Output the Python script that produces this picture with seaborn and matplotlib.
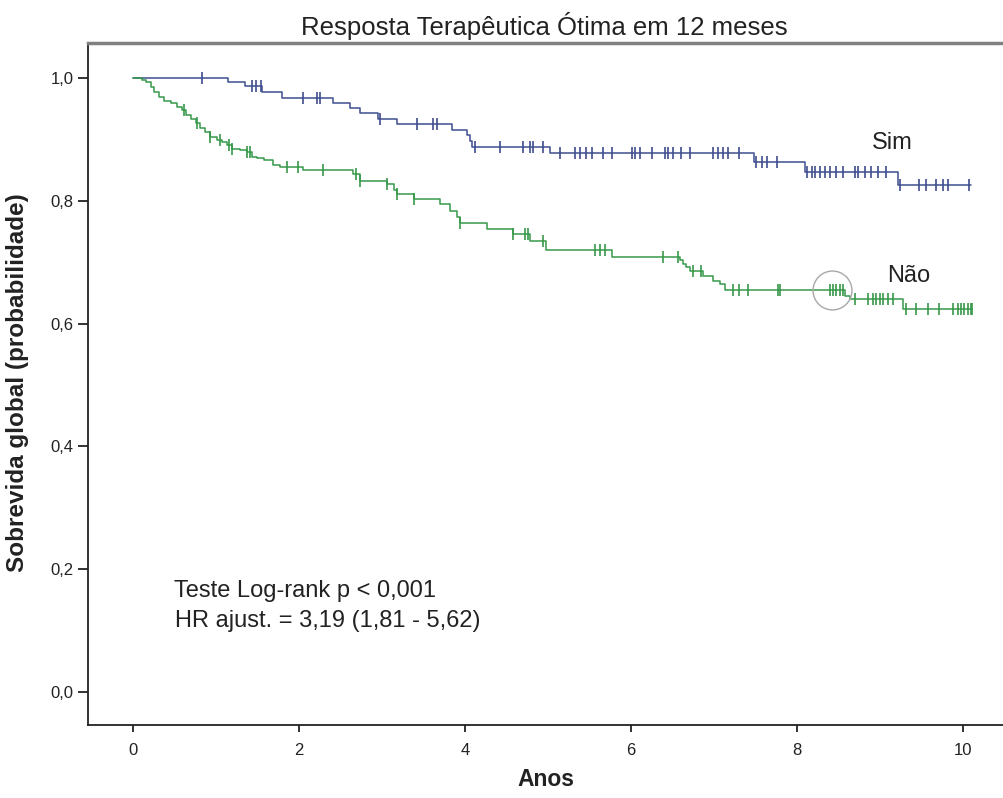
import matplotlib
matplotlib.use("Agg")
import matplotlib.pyplot as plt
import numpy as np
import pandas as pd
import seaborn as sns

# Kaplan-Meier steps (years, survival probability)
sim_times = [0, 1.14, 1.35, 1.55, 1.79, 2.41, 2.61, 2.73, 2.95, 3.18, 3.84, 4.02, 4.06,
             4.08, 5.03, 7.49, 8.10, 9.22, 10.10]
sim_surv = [1.0, 0.993, 0.987, 0.977, 0.968, 0.960, 0.951, 0.943, 0.934, 0.925, 0.915,
            0.907, 0.897, 0.888, 0.878, 0.863, 0.847, 0.826, 0.826]
sim_censored = [0.83, 1.43, 1.48, 1.54, 2.05, 2.21, 2.25, 2.98, 3.42, 3.62, 3.66, 4.12,
                4.42, 4.70, 4.78, 4.82, 4.94, 5.14, 5.33, 5.39, 5.46, 5.53, 5.66, 5.77,
                6.01, 6.05, 6.11, 6.25, 6.41, 6.45, 6.51, 6.61, 6.71, 6.99, 7.05, 7.11,
                7.17, 7.31, 7.51, 7.58, 7.64, 7.76, 8.12, 8.18, 8.22, 8.28, 8.34, 8.40,
                8.48, 8.56, 8.70, 8.74, 8.82, 8.90, 8.98, 9.08, 9.24, 9.48, 9.56, 9.68,
                9.76, 9.82, 10.08]

nao_times = [0, 0.10, 0.15, 0.21, 0.25, 0.31, 0.37, 0.45, 0.53, 0.59, 0.63, 0.69, 0.75,
             0.81, 0.87, 0.93, 1.01, 1.07, 1.13, 1.19, 1.29, 1.37, 1.43, 1.49, 1.57, 1.69,
             1.77, 2.05, 2.65, 2.73, 3.06, 3.14, 3.18, 3.38, 3.70, 3.82, 3.90, 3.94, 4.26,
             4.58, 4.78, 4.98, 5.77, 6.59, 6.63, 6.67, 6.71, 6.87, 6.99, 7.07, 7.13, 8.58,
             8.64, 9.28, 10.12]
nao_surv = [1.0, 0.997, 0.994, 0.986, 0.978, 0.969, 0.963, 0.959, 0.953, 0.948, 0.940,
            0.934, 0.926, 0.919, 0.912, 0.904, 0.899, 0.896, 0.891, 0.885, 0.882, 0.880,
            0.871, 0.869, 0.866, 0.858, 0.855, 0.850, 0.844, 0.833, 0.828, 0.817, 0.811,
            0.803, 0.795, 0.784, 0.773, 0.763, 0.754, 0.746, 0.735, 0.719, 0.708, 0.703,
            0.697, 0.692, 0.686, 0.678, 0.670, 0.664, 0.654, 0.645, 0.640, 0.624, 0.624]
nao_censored = [0.61, 0.77, 0.93, 1.05, 1.15, 1.19, 1.37, 1.41, 1.85, 1.99, 2.29, 2.69,
                2.73, 3.06, 3.18, 3.38, 3.94, 4.58, 4.72, 4.76, 4.94, 5.57, 5.63, 5.69,
                6.39, 6.57, 6.75, 6.85, 7.23, 7.31, 7.41, 7.78, 7.80, 8.40, 8.44, 8.48,
                8.52, 8.56, 8.70, 8.86, 8.92, 8.96, 9.00, 9.04, 9.10, 9.16, 9.32, 9.44,
                9.58, 9.72, 9.88, 9.94, 9.98, 10.02, 10.06, 10.10, 10.12]

x_ticks = [0, 2, 4, 6, 8, 10]
y_ticks = [0.0, 0.2, 0.4, 0.6, 0.8, 1.0]
y_tick_labels = ["0,0", "0,2", "0,4", "0,6", "0,8", "1,0"]

GROUP_COLORS = {"Sim": "#3f4e8e", "Não": "#37984a"}

sns.set_style("white")
plt.rcParams["font.family"] = ["Liberation Sans", "DejaVu Sans"]

fig = plt.figure(figsize=(10.04, 7.98), dpi=100)
ax = fig.add_axes([0.0872, 0.0915, 0.9128, 0.8545])

groups = [("Sim", sim_times, sim_surv, sim_censored),
          ("Não", nao_times, nao_surv, nao_censored)]

for name, times, surv, censored in groups:
    df = pd.DataFrame({"t": times, "s": surv})
    sns.lineplot(data=df, x="t", y="s", estimator=None, drawstyle="steps-post",
                 color=GROUP_COLORS[name], linewidth=1.1, ax=ax)
    # censor marks sit on the step curve
    idx = np.searchsorted(np.array(times), np.array(censored), side="right") - 1
    cens_y = np.array(surv)[idx]
    ax.plot(censored, cens_y, linestyle="none", marker="|", markersize=8,
            markeredgewidth=1.2, color=GROUP_COLORS[name])

# highlighted region
ax.plot([8.42], [0.655], marker="o", markersize=28, markerfacecolor="none",
        markeredgecolor="#a8a8a8", markeredgewidth=1.0, linestyle="none")

ax.text(8.91, 0.884, "Sim", fontsize=17, ha="left", va="baseline", color="#222222")
ax.text(9.09, 0.668, "Não", fontsize=17, ha="left", va="baseline", color="#222222")
ax.text(0.49, 0.154, "Teste Log-rank p < 0,001", fontsize=17, ha="left",
        va="baseline", color="#222222")
ax.text(0.50, 0.105, "HR ajust. = 3,19 (1,81 - 5,62)", fontsize=17, ha="left",
        va="baseline", color="#222222")

ax.set_xlim(-0.552, 10.50)
ax.set_ylim(-0.0543, 1.057)
ax.set_xticks(x_ticks)
ax.set_yticks(y_ticks)
ax.set_yticklabels(y_tick_labels)
ax.set_xlabel("")
ax.set_ylabel("")

ax.tick_params(axis="x", direction="out", length=5, width=1.3, pad=8, labelsize=12,
               bottom=True, colors="#222222")
ax.tick_params(axis="y", direction="out", length=7.5, width=1.3, pad=2.5, labelsize=12,
               left=True, colors="#222222")

for side in ["left", "bottom"]:
    ax.spines[side].set_color("#222222")
    ax.spines[side].set_linewidth(1.3)
ax.spines["top"].set_color("#808080")
ax.spines["top"].set_linewidth(2.5)
ax.spines["right"].set_visible(False)

fig.text(544 / 1004, 1 - 35 / 798, "Resposta Terapêutica Ótima em 12 meses",
         fontsize=18.5, ha="center", va="baseline", color="#222222")
fig.text(546 / 1004, 1 - 786 / 798, "Anos", fontsize=16.5, fontweight="bold",
         ha="center", va="baseline", color="#222222")
fig.text(18 / 1004, 1 - 383 / 798, "Sobrevida global (probabilidade)", fontsize=17.5,
         fontweight="bold", rotation=90, ha="center", va="center", color="#222222")

fig.savefig("out.png", dpi=100)
